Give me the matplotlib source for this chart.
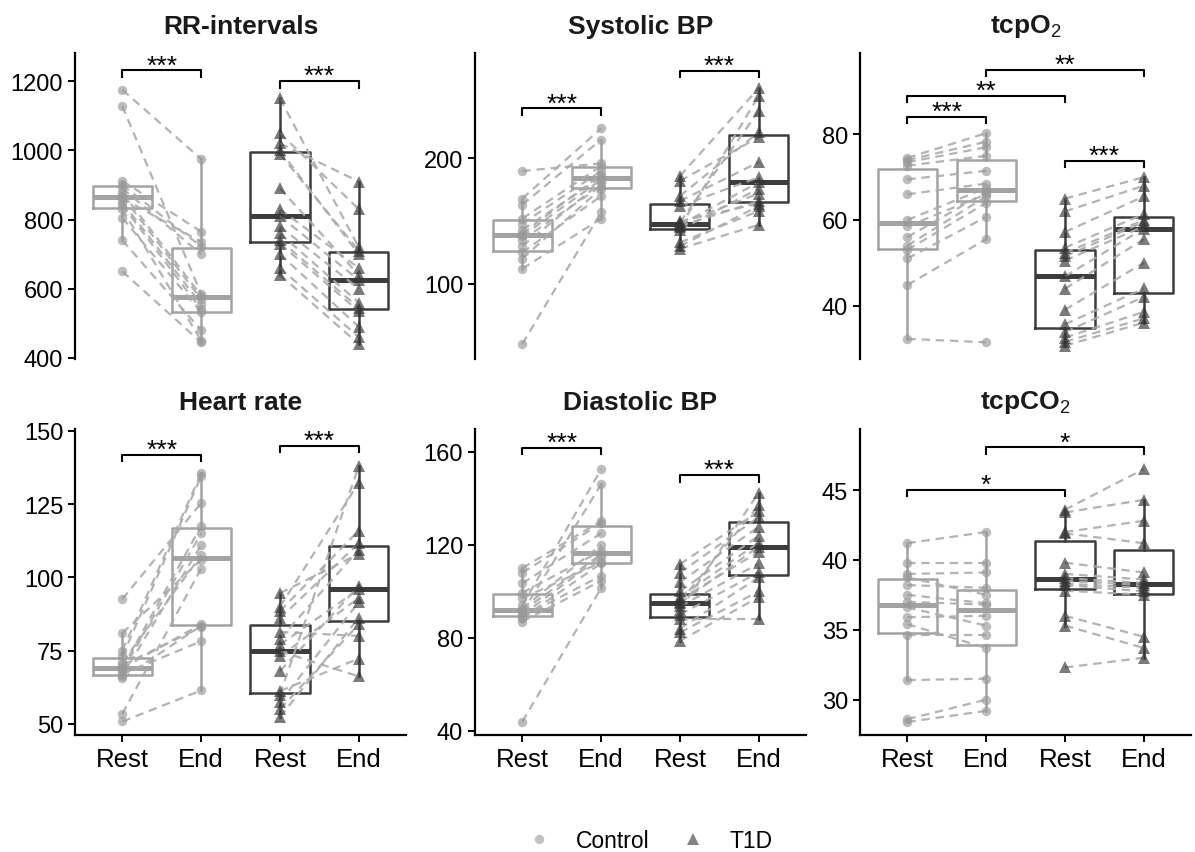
import numpy as np
import matplotlib.pyplot as plt
from matplotlib.lines import Line2D

plt.rcParams['font.family'] = ['Liberation Sans', 'DejaVu Sans']
plt.rcParams['mathtext.fontset'] = 'custom'
plt.rcParams['mathtext.rm'] = 'Liberation Sans'

x_labels = ['Rest', 'End', 'Rest', 'End']
group_names = ['Control', 'T1D']

# RR-intervals (ms), paired by subject (rest[i] -> end[i])
rr_ctrl_rest = [1175, 1128, 912, 900, 890, 878, 868, 862, 850, 842, 830, 805, 740, 650]
rr_ctrl_end = [975, 585, 765, 722, 700, 580, 570, 735, 555, 540, 450, 532, 480, 445]
rr_t1d_rest = [1150, 1050, 1020, 1000, 990, 890, 830, 810, 780, 760, 740, 730, 700, 660, 640]
rr_t1d_end = [720, 830, 910, 700, 710, 640, 660, 625, 600, 560, 545, 535, 490, 460, 440]

# Systolic BP (mmHg)
sys_ctrl_rest = [52, 112, 120, 125, 130, 135, 138, 140, 143, 148, 152, 163, 168, 190]
sys_ctrl_end = [157, 152, 176, 170, 181, 178, 183, 187, 185, 190, 194, 215, 224, 196]
sys_t1d_rest = [128, 130, 133, 143, 145, 146, 147, 148, 149, 150, 162, 166, 170, 182, 186]
sys_t1d_end = [147, 162, 158, 176, 250, 166, 181, 172, 238, 164, 185, 197, 221, 217, 256]

# tcpO2
o2_ctrl_rest = [32.2, 44.8, 51, 53, 54, 56, 58.5, 60, 66, 69.5, 72.7, 73.5, 74, 74.5]
o2_ctrl_end = [31.4, 55.5, 60.7, 64, 65.5, 66.5, 66, 67.5, 68.5, 71.5, 75, 77, 78.3, 80.3]
o2_t1d_rest = [30.6, 31.5, 32.5, 33.8, 35.6, 39.0, 43.9, 46.8, 50.5, 51.5, 52.3, 53.5, 57.2, 62, 65]
o2_t1d_end = [36, 37, 38.5, 42, 44, 50, 55.5, 58, 58.5, 59.5, 60, 61.4, 65.5, 68, 70]

# Heart rate (bpm)
hr_ctrl_rest = [50.8, 53.4, 65.5, 66.5, 67, 68, 69, 69, 70, 71, 73, 75, 81, 92.6]
hr_ctrl_end = [61.4, 103, 83.5, 111, 78.2, 115, 84, 117.5, 83, 107.5, 134.5, 135.5, 106, 125.4]
hr_t1d_rest = [52.3, 55, 57.5, 60, 61.2, 68, 73, 74.8, 77, 79, 81.4, 86, 88.5, 90, 94.6]
hr_t1d_end = [86.2, 84, 91.5, 138, 72.3, 97, 93, 66.2, 96, 109.5, 80, 111.7, 116, 132.3, 108]

# Diastolic BP (mmHg)
dia_ctrl_rest = [43.9, 87, 88.5, 89, 89.8, 91, 91.5, 92.5, 94, 97, 99.4, 103.5, 108, 110]
dia_ctrl_end = [101.4, 104.5, 112, 106.7, 115, 146, 116, 120, 152.5, 112.5, 117.4, 125, 129.3, 130.3]
dia_t1d_rest = [78.7, 82.3, 84, 88, 90, 92, 93.5, 94.9, 95.5, 96.5, 97.6, 100, 104, 108, 111.7]
dia_t1d_end = [97.5, 100, 106, 88, 108.2, 142.5, 112, 119.3, 137, 117, 121, 124, 127.8, 132, 134.5]

# tcpCO2
co2_ctrl_rest = [28.4, 28.6, 31.4, 34.6, 35.4, 35.9, 36.6, 37.0, 37.5, 38.2, 38.75, 39.0, 39.8, 41.2]
co2_ctrl_end = [29.2, 30.0, 31.5, 34.6, 33.7, 36.0, 35.3, 36.8, 36.9, 38.0, 37.5, 39.1, 39.8, 42.0]
co2_t1d_rest = [32.3, 35.3, 36.0, 37.8, 38.2, 38.3, 38.5, 38.7, 39.0, 39.8, 41.9, 42.0, 43.4, 43.6]
co2_t1d_end = [33.0, 33.7, 34.5, 37.5, 37.75, 38.0, 38.2, 38.35, 38.6, 39.1, 41.2, 42.8, 44.3, 46.5]

# significance brackets: (from, to, height, label)
rr_sig = [(1, 2, 1231, '***'), (3, 4, 1200, '***')]
sys_sig = [(1, 2, 240, '***'), (3, 4, 270, '***')]
o2_sig = [(1, 2, 84.1, '***'), (1, 3, 89.1, '**'), (2, 4, 95.1, '**'), (3, 4, 73.8, '***')]
hr_sig = [(1, 2, 141.8, '***'), (3, 4, 144.9, '***')]
dia_sig = [(1, 2, 161.9, '***'), (3, 4, 150, '***')]
co2_sig = [(1, 3, 45.0, '*'), (2, 4, 48.05, '*')]

panels = [
    ('RR-intervals', (rr_ctrl_rest, rr_ctrl_end, rr_t1d_rest, rr_t1d_end),
     (397, 1281), [400, 600, 800, 1000, 1200], rr_sig),
    ('Systolic BP', (sys_ctrl_rest, sys_ctrl_end, sys_t1d_rest, sys_t1d_end),
     (40, 284), [100, 200], sys_sig),
    (r'tcpO$_\mathrm{2}$', (o2_ctrl_rest, o2_ctrl_end, o2_t1d_rest, o2_t1d_end),
     (27.5, 99), [40, 60, 80], o2_sig),
    ('Heart rate', (hr_ctrl_rest, hr_ctrl_end, hr_t1d_rest, hr_t1d_end),
     (46.2, 150.6), [50, 75, 100, 125, 150], hr_sig),
    ('Diastolic BP', (dia_ctrl_rest, dia_ctrl_end, dia_t1d_rest, dia_t1d_end),
     (38.2, 169.8), [40, 80, 120, 160], dia_sig),
    (r'tcpCO$_\mathrm{2}$', (co2_ctrl_rest, co2_ctrl_end, co2_t1d_rest, co2_t1d_end),
     (27.47, 49.36), [30, 35, 40, 45], co2_sig),
]

box_colors = ['#a3a3a3', '#a3a3a3', '#3d3d3d', '#3d3d3d']
point_colors = ['#999999', '#333333']
point_markers = ['o', '^']
point_sizes = [6.8, 8.2]
line_color = '#ababab'

fig = plt.figure(figsize=(11.95, 8.53), dpi=100)
lefts = [0.0628, 0.3975, 0.7197]
bottoms = [0.578, 0.1372]
width, height = 0.277, 0.3585

for i, (title, data, ylim, yticks, sig) in enumerate(panels):
    row, col = divmod(i, 3)
    ax = fig.add_axes([lefts[col], bottoms[row], width, height])
    pos = [1, 2, 3, 4]

    # boxes
    for p, vals, c in zip(pos, data, box_colors):
        ax.boxplot([vals], positions=[p], widths=0.75, whis=1.5,
                   showfliers=False, showcaps=False,
                   boxprops=dict(color=c, linewidth=1.8),
                   whiskerprops=dict(color=c, linewidth=1.8),
                   medianprops=dict(color=c, linewidth=3.6),
                   zorder=1)

    # paired dashed lines + points
    for g in range(2):
        rest, end = data[2 * g], data[2 * g + 1]
        xr, xe = pos[2 * g], pos[2 * g + 1]
        for a, b in zip(rest, end):
            ax.plot([xr, xe], [a, b], color=line_color, lw=1.6,
                    dashes=(3.8, 2.6), alpha=0.9, zorder=2)
        for xp, vals in ((xr, rest), (xe, end)):
            ax.plot([xp] * len(vals), vals, linestyle='none',
                    marker=point_markers[g], markersize=point_sizes[g],
                    markeredgewidth=0, color=point_colors[g], alpha=0.65,
                    zorder=3)

    # significance brackets
    rng = ylim[1] - ylim[0]
    tick = 0.021 * rng
    for x1, x2, y, lab in sig:
        ax.plot([x1, x1, x2, x2], [y - tick, y, y, y - tick], color='black',
                lw=1.5, zorder=4, clip_on=False)
        ax.annotate(lab, xy=((x1 + x2) / 2, y), xytext=(0, -1.5),
                    textcoords='offset points', ha='center', va='baseline',
                    fontsize=19, annotation_clip=False)

    ax.set_xlim(0.4, 4.6)
    ax.set_ylim(*ylim)
    ax.set_yticks(yticks)
    ax.tick_params(axis='y', labelsize=17, length=5, width=1.4, colors='black')
    ax.spines['top'].set_visible(False)
    ax.spines['right'].set_visible(False)
    ax.spines['left'].set_linewidth(1.6)
    if row == 0:
        ax.spines['bottom'].set_visible(False)
        ax.set_xticks([])
    else:
        ax.spines['bottom'].set_linewidth(1.6)
        ax.set_xticks(pos)
        ax.set_xticklabels(x_labels)
        ax.tick_params(axis='x', labelsize=18.5, length=5, width=1.4, pad=4)
    ax.text(0.5, 1.09, title, transform=ax.transAxes, ha='center', va='center',
            fontsize=19, fontweight='bold', color='#1a1a1a')

handles = [Line2D([], [], linestyle='none', marker=m, markersize=s * 1.0,
                  markeredgewidth=0, color=c, alpha=0.6)
           for m, s, c in zip(point_markers, point_sizes, point_colors)]
fig.legend(handles, group_names, loc='center', bbox_to_anchor=(0.543, 0.013),
           ncol=2, frameon=False, fontsize=16.5, handletextpad=1.0,
           columnspacing=1.3, handlelength=1.2)

fig.savefig('out.png', dpi=100)
